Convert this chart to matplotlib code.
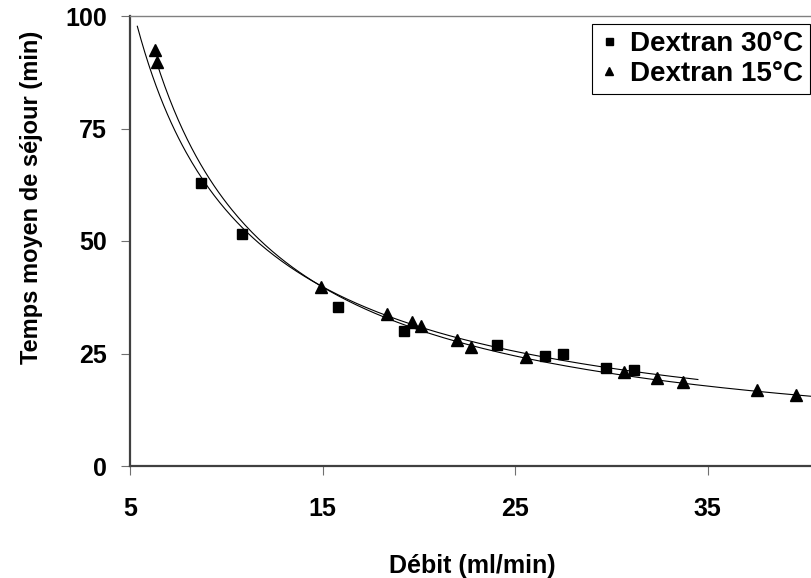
import matplotlib
matplotlib.use("Agg")
import matplotlib.pyplot as plt
import numpy as np

plt.rcParams["font.family"] = ["Liberation Sans", "DejaVu Sans"]
plt.rcParams["font.weight"] = "bold"

# Dextran 30°C (squares)
debit_30 = [8.69, 10.80, 15.79, 19.23, 24.05, 26.56, 27.48, 29.71, 31.20]
temps_30 = [63.0, 51.5, 35.3, 30.1, 26.9, 24.5, 24.9, 21.7, 21.3]

# Dextran 15°C (triangles)
debit_15 = [6.30, 6.38, 14.92, 18.33, 19.67, 20.11, 21.97, 22.70, 25.57,
            30.68, 32.36, 33.74, 37.55, 39.60]
temps_15 = [92.4, 89.8, 39.7, 33.8, 32.1, 31.1, 27.9, 26.5, 24.3,
            21.0, 19.5, 18.7, 17.0, 15.8]

# power trendlines y = a * x^b as drawn in the chart, with their x-range
trend_30_coef = (426.0, -0.875)
trend_30_span = (5.38, 34.5)
trend_15_coef = (524.0, -0.952)
trend_15_span = (6.35, 41.0)

x_ticks = [5, 15, 25, 35]
y_ticks = [0, 25, 50, 75, 100]

FS = 18


def trend(coef, span):
    xs = np.linspace(span[0], span[1], 300)
    return xs, coef[0] * xs ** coef[1]


fig = plt.figure(figsize=(8.11, 5.78), dpi=100)
ax = fig.add_axes([130 / 811, 112 / 578, 770 / 811, 450 / 578])

for coef, span in [(trend_30_coef, trend_30_span), (trend_15_coef, trend_15_span)]:
    xs, ys = trend(coef, span)
    ax.plot(xs, ys, color="black", lw=0.8, zorder=2)

ax.plot(debit_30, temps_30, ls="none", marker="s", ms=7.2, color="black",
        label="Dextran 30°C", zorder=3)
ax.plot(debit_15, temps_15, ls="none", marker="^", ms=8.5, color="black",
        label="Dextran 15°C", zorder=3)

ax.set_xlim(5, 45)
ax.set_ylim(0, 100)
ax.set_xticks(x_ticks)
ax.set_yticks(y_ticks)
ax.tick_params(axis="both", direction="out", length=6.5, width=0.8,
               color="#707070", labelsize=FS)
ax.tick_params(axis="x", pad=16)
ax.tick_params(axis="y", pad=10)
for lab in ax.get_xticklabels() + ax.get_yticklabels():
    lab.set_fontweight("bold")

ax.spines["left"].set_color("#404040")
ax.spines["bottom"].set_color("#404040")
ax.spines["left"].set_linewidth(1.6)
ax.spines["bottom"].set_linewidth(1.6)
ax.spines["top"].set_color("#808080")
ax.spines["top"].set_linewidth(1.0)
ax.spines["right"].set_visible(False)

ax.set_xlabel("Débit (ml/min)", fontsize=FS, fontweight="bold")
ax.set_ylabel("Temps moyen de séjour (min)", fontsize=17, fontweight="bold")
ax.xaxis.set_label_coords(0.445, -0.196)
ax.xaxis.label.set_va("top")
ax.yaxis.set_label_coords(-0.113, 0.598)

leg = ax.legend(loc="upper left", bbox_to_anchor=(592 / 811, 1 - 24 / 578),
                bbox_transform=fig.transFigure, fontsize=20, frameon=True,
                fancybox=False, edgecolor="black", framealpha=1,
                markerscale=0.7, handlelength=0.7, handletextpad=0.4,
                borderpad=0.25, labelspacing=0.15, borderaxespad=0)
leg.get_frame().set_linewidth(0.8)
for t in leg.get_texts():
    t.set_fontweight("bold")

fig.savefig("out.png", dpi=100, facecolor="white")
